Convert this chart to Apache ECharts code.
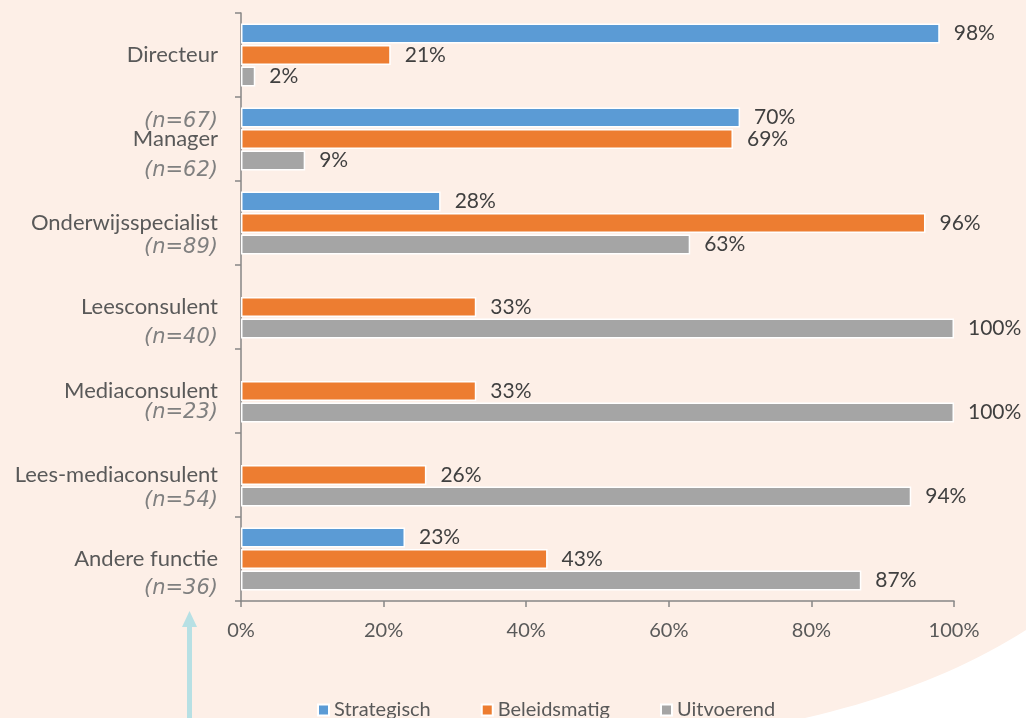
<!DOCTYPE html>
<html lang="nl">
<head>
    <meta charset="utf-8">
    <title>Taken per functie</title>
    <script src="https://cdn.jsdelivr.net/npm/echarts@6/dist/echarts.min.js"></script>
    <style>
        html, body { margin: 0; padding: 0; background: #fff; }
        #main { width: 1026px; height: 718px; }
    </style>
</head>
<body>
<div id="main"></div>
<script type="text/javascript">
    // categorieen en aantallen
    var functies = ['Directeur', 'Manager', 'Onderwijsspecialist', 'Leesconsulent',
        'Mediaconsulent', 'Lees-mediaconsulent', 'Andere functie'];
    var aantallen = ['(n=67)', '(n=62)', '(n=89)', '(n=40)', '(n=23)', '(n=54)', '(n=36)'];

    // percentages per reeks (null = geen balk)
    var strategisch = [98, 70, 28, null, null, null, 23];
    var beleidsmatig = [21, 69, 96, 33, 33, 26, 43];
    var uitvoerend = [2, 9, 63, 100, 100, 94, 87];

    var xTicks = [0, 20, 40, 60, 80, 100];

    // afstand (px) tussen naam en (n=..) regel, alleen opmaak
    var nAfstand = [67, 32, 25, 31, 22, 26, 30];

    var FONT = 'Lato';
    var NAAM_LH = 24;
    var rich = {
        naam: {fontSize: 22, lineHeight: NAAM_LH, color: '#595959', fontFamily: FONT, align: 'right'}
    };
    nAfstand.forEach(function (d, i) {
        var lh = 2 * (d - NAAM_LH / 2);
        rich['s' + i] = {fontSize: 10, lineHeight: lh, align: 'right'};
        rich['n' + i] = {
            fontSize: 21, lineHeight: lh, color: '#808080', fontStyle: 'italic',
            fontFamily: 'DejaVu Sans', align: 'right'
        };
    });

    function labelStyle() {
        return {
            show: true,
            position: 'right',
            distance: 14,
            color: '#404040',
            fontSize: 21,
            fontFamily: FONT,
            formatter: function (p) {
                return p.value == null ? '' : p.value + '%';
            }
        };
    }

    function reeks(naam, kleur, data) {
        return {
            name: naam,
            type: 'bar',
            data: data,
            barWidth: 20,
            barGap: '8%',
            itemStyle: {color: kleur, borderColor: '#ffffff', borderWidth: 1.5},
            label: labelStyle()
        };
    }

    // witte boog rechtsonder (decoratie)
    var boog = [];
    for (var t = 0; t <= 1.0001; t += 0.05) {
        var bx = (1 - t) * (1 - t) * 805 + 2 * t * (1 - t) * 935 + t * t * 1026;
        var by = (1 - t) * (1 - t) * 718 + 2 * t * (1 - t) * 688 + t * t * 630;
        boog.push([bx, by]);
    }
    boog.push([1026, 718]);

    var myChart = echarts.init(document.getElementById('main'));

    var option = {
        backgroundColor: '#fdefe7',
        animation: false,
        textStyle: {fontFamily: FONT},
        grid: {
            left: 241, right: 72, top: 13, bottom: 117,
            containLabel: false, outerBoundsMode: 'none'
        },
        legend: {
            data: ['Strategisch', 'Beleidsmatig', 'Uitvoerend'],
            left: 312,
            top: 695,
            icon: 'rect',
            itemWidth: 11,
            itemHeight: 11,
            itemGap: 50,
            textStyle: {fontSize: 20, color: '#595959', fontFamily: FONT}
        },
        xAxis: {
            type: 'value',
            min: xTicks[0],
            max: xTicks[xTicks.length - 1],
            interval: 20,
            splitLine: {show: false},
            axisLine: {show: true, lineStyle: {color: '#868686', width: 1.5}},
            axisTick: {show: true, length: 6, lineStyle: {color: '#868686', width: 1.5}},
            axisLabel: {
                margin: 20, fontSize: 20, color: '#595959', fontFamily: FONT,
                formatter: '{value}%'
            }
        },
        yAxis: {
            type: 'category',
            inverse: true,
            data: functies,
            axisLine: {show: true, lineStyle: {color: '#868686', width: 1.5}},
            axisTick: {show: true, length: 6, lineStyle: {color: '#868686', width: 1.5}},
            axisLabel: {
                margin: 23,
                interval: 0,
                hideOverlap: false,
                formatter: function (v, i) {
                    return '{s' + i + '| }\n{naam|' + v + '}\n{n' + i + '|' + aantallen[i] + '}';
                },
                rich: rich
            }
        },
        graphic: [
            {
                type: 'polygon',
                silent: true,
                z: -1,
                shape: {points: boog},
                style: {fill: '#ffffff'}
            },
            {
                type: 'rect',
                silent: true,
                shape: {x: 187, y: 626, width: 5, height: 92},
                style: {fill: '#b7e0e4'}
            },
            {
                type: 'polygon',
                silent: true,
                shape: {points: [[189.5, 611], [182, 627], [197, 627]]},
                style: {fill: '#b7e0e4'}
            }
        ],
        series: [
            reeks('Strategisch', '#5b9bd5', strategisch),
            reeks('Beleidsmatig', '#ed7d31', beleidsmatig),
            reeks('Uitvoerend', '#a5a5a5', uitvoerend)
        ]
    };

    myChart.setOption(option);
</script>
</body>
</html>
